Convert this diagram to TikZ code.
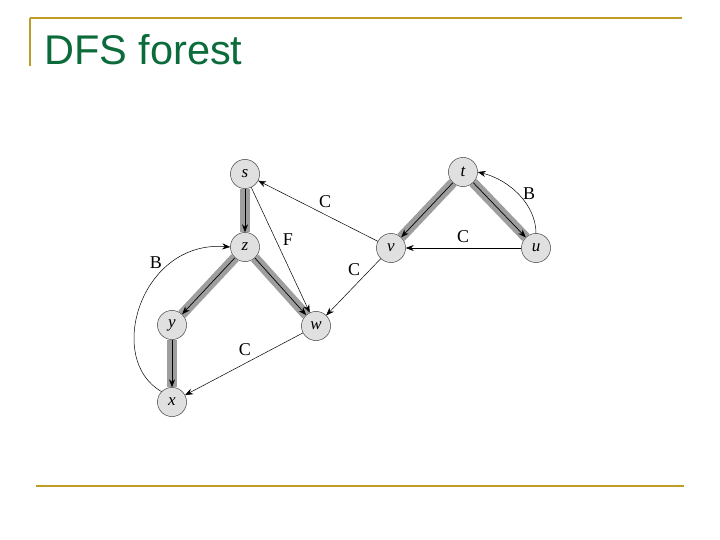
\documentclass[tikz,border=0pt]{standalone}
\usepackage{fontspec}
\setmainfont{Liberation Serif}
\newfontfamily\titlefont{Liberation Sans}
\usetikzlibrary{arrows.meta}
\definecolor{gold}{HTML}{BF9B2A}
\definecolor{titlegreen}{HTML}{0B6B3A}
\begin{document}
\begin{tikzpicture}[x=1pt,y=-1pt,
  vert/.style={circle,draw=black!70,fill=black!12,minimum size=29pt,inner sep=0pt,font=\itshape\fontsize{17}{17}\selectfont},
  tree/.style={draw=black!38,line width=10pt},
  arr/.style={-{Stealth[length=8pt,width=6pt]},line width=0.7pt},
  lab/.style={font=\fontsize{18}{18}\selectfont}]
\useasboundingbox (0,0) rectangle (720,540);
\draw[gold,line width=2.5pt] (30,18) -- (682,18);
\draw[gold,line width=2.5pt] (30,18) -- (30,66);
\draw[gold,line width=2.5pt] (36,486) -- (684,486);
\node[anchor=base west,inner sep=0pt,text=titlegreen,font=\titlefont\fontsize{41.5}{41.5}\selectfont] (title) at (44,65) {DFS forest};

\node[vert] (s) at (245,174) {s};
\node[vert] (z) at (245,247) {z};
\node[vert] (y) at (172,325) {y};
\node[vert] (x) at (172,402) {x};
\node[vert] (w) at (316,326) {w};
\node[vert] (v) at (391,248) {v};
\node[vert] (t) at (463,172) {t};
\node[vert] (u) at (536,248) {u};

\foreach \a/\b in {s/z,z/y,z/w,y/x,t/v,t/u}{
  \path[tree] (\a) -- (\b);
}
\foreach \a/\b in {s/z,z/y,z/w,y/x,t/v,t/u}{
  \draw[arr] (\a) -- (\b);
}
\node[vert] at (s) {s};
\node[vert] at (z) {z};
\node[vert] at (y) {y};
\node[vert] at (x) {x};
\node[vert] at (w) {w};
\node[vert] at (v) {v};
\node[vert] at (t) {t};
\node[vert] at (u) {u};

\draw[arr,line width=0.5pt] (s) -- (w);
\draw[arr,line width=0.5pt] (v) -- (s);
\draw[arr,line width=0.5pt] (v) -- (w);
\draw[arr,line width=0.5pt] (w) -- (x);
\draw[arr,line width=0.5pt] (u) -- (v);
\draw[arr,line width=0.5pt] (x.north west) .. controls (105,360) and (140,240) .. (z.west);
\draw[arr,line width=0.5pt] (u.north) .. controls (536,205) and (510,180) .. (t.east);

\node[lab] (lC1) at (325,202) {C};
\node[lab] (lF) at (288,240) {F};
\node[lab] (lB1) at (156,263) {B};
\node[lab] (lC2) at (354,270) {C};
\node[lab] (lC3) at (245,350) {C};
\node[lab] (lC4) at (463,237) {C};
\node[lab] (lB2) at (529,194) {B};
\end{tikzpicture}
\end{document}
